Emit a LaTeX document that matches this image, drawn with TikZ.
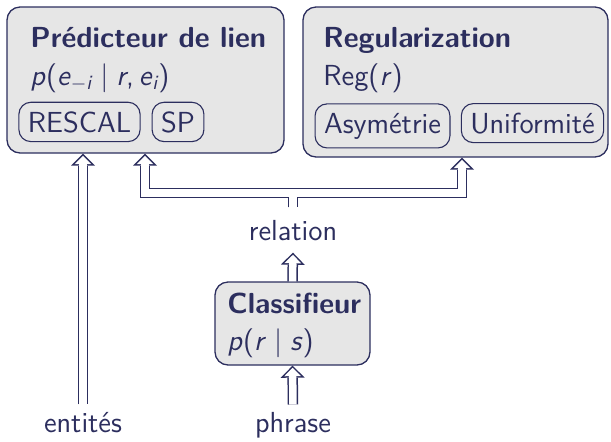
\documentclass[tikz,border=0pt]{standalone}
\usepackage{amsmath}
\usepackage{fontspec}
\usetikzlibrary{arrows.meta}
\definecolor{navy}{RGB}{44,46,94}
\definecolor{boxgray}{RGB}{230,230,230}
\newcommand\mv[1]{\textit{#1}}
\newcommand\dblconn[1]{\draw[outerA] #1; \draw[innerA] #1;}
\begin{document}
\begin{tikzpicture}[x=0.5pt,y=-0.5pt,
  every node/.style={text=navy, font=\sffamily\fontsize{14.5}{17}\selectfont},
  bigbox/.style={draw=navy, fill=boxgray, rounded corners=6.5pt, line width=0.65pt},
  pill/.style={draw=navy, rounded corners=6pt, line width=0.55pt, inner sep=4.5pt, anchor=base},
  ttl/.style={anchor=base west, inner sep=0pt, font=\sffamily\bfseries\fontsize{14.5}{17}\selectfont},
  txt/.style={anchor=base west, inner sep=0pt},
  lbl/.style={anchor=base, inner sep=3.5pt},
  outerA/.style={draw=navy, line width=5.25pt,
    -{Triangle[length=6pt, width=12pt, line width=0pt]}},
  innerA/.style={draw=white, line width=3.75pt, shorten >=1.06pt,
    -{Triangle[length=4.19pt, width=8.38pt, line width=0pt]}}
]
\useasboundingbox (0,0) rectangle (611,441);
% boxes
\node[bigbox, minimum width=138.5pt, minimum height=73pt] (L) at (145.5,80) {};
\node[bigbox, minimum width=152.5pt, minimum height=75pt] (R) at (455.5,82) {};
\node[bigbox, minimum width=77.5pt, minimum height=41.5pt] (C) at (292.5,323.5) {};
% left box contents
\node[ttl] (Lt) at (30,47) {Prédicteur de lien};
\node[txt] (Lf) at (30,85) {\mv{p}(\mv{e}$_{-\textsf{\itshape i}}$\;|\;\mv{r},\,\mv{e}$_{\textsf{\itshape i}}$)};
\node[pill] (resc) at (79.5,132) {RESCAL};
\node[pill] (sp) at (178,132) {SP};
% right box contents
\node[ttl] (Rt) at (323,47) {Regularization};
\node[txt] (Rf) at (323,85) {Reg(\mv{r})};
\node[pill] (asym) at (382.5,133) {Asymétrie};
\node[pill] (unif) at (532.5,133) {Uniformité};
% classifier contents
\node[ttl] (Ct) at (227,313) {Classifieur};
\node[txt] (Cf) at (227,350) {\mv{p}(\mv{r}\;|\;\mv{s})};
% labels
\node[lbl, inner sep=6pt] (rel) at (293,240) {relation};
\node[lbl] (phr) at (293,432) {phrase};
\node[lbl] (ent) at (83,432) {entités};
% junction coordinates
\coordinate (jL) at (145,193);
\coordinate (jR) at (462,193);
% arrows
\dblconn{(ent.north) -- (ent.north |- L.south)}
\dblconn{(phr.north) -- (C.south)}
\dblconn{(C.north) -- (rel.south)}
\dblconn{(rel.north) |- (jL) -- (jL |- L.south)}
\dblconn{(rel.north) |- (jR) -- (jR |- R.south)}
\draw[white, line width=3.75pt] (jL) -- (jR);
\end{tikzpicture}
\end{document}
